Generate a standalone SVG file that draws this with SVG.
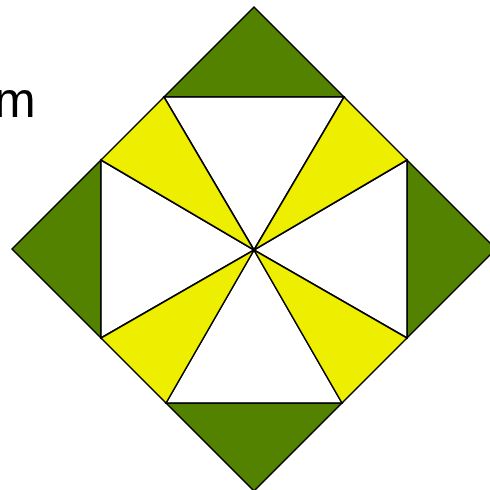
<svg xmlns="http://www.w3.org/2000/svg" width="490" height="490" viewBox="0 0 490 490">
<style>
.g{fill:#528200;stroke:#000;stroke-width:1.5;stroke-linejoin:miter}
.y{fill:#eeee00;stroke:#000;stroke-width:1.5}
.w{fill:#fff;stroke:#000;stroke-width:1.5}
</style>
<rect width="490" height="490" fill="#fff"/>
<text x="-6" y="117" font-family="Liberation Sans, Arial, sans-serif" font-size="50" fill="#000">m</text>
<g id="greens">
<polygon class="g" points="254,7 344,97 164,97"/>
<polygon class="g" points="12,249 101,160 101,338"/>
<polygon class="g" points="496,249 407,160 407,338"/>
<polygon class="g" points="254,491 166,403 342,403"/>
</g>
<g id="whites">
<polygon class="w" points="164,97 344,97 254,250"/>
<polygon class="w" points="407,160 407,338 254,250"/>
<polygon class="w" points="342,403 166,403 254,250"/>
<polygon class="w" points="101,338 101,160 254,250"/>
</g>
<g id="yellows">
<polygon class="y" points="164,97 101,160 254,250"/>
<polygon class="y" points="344,97 407,160 254,250"/>
<polygon class="y" points="407,338 342,403 254,250"/>
<polygon class="y" points="101,338 166,403 254,250"/>
</g>
</svg>
